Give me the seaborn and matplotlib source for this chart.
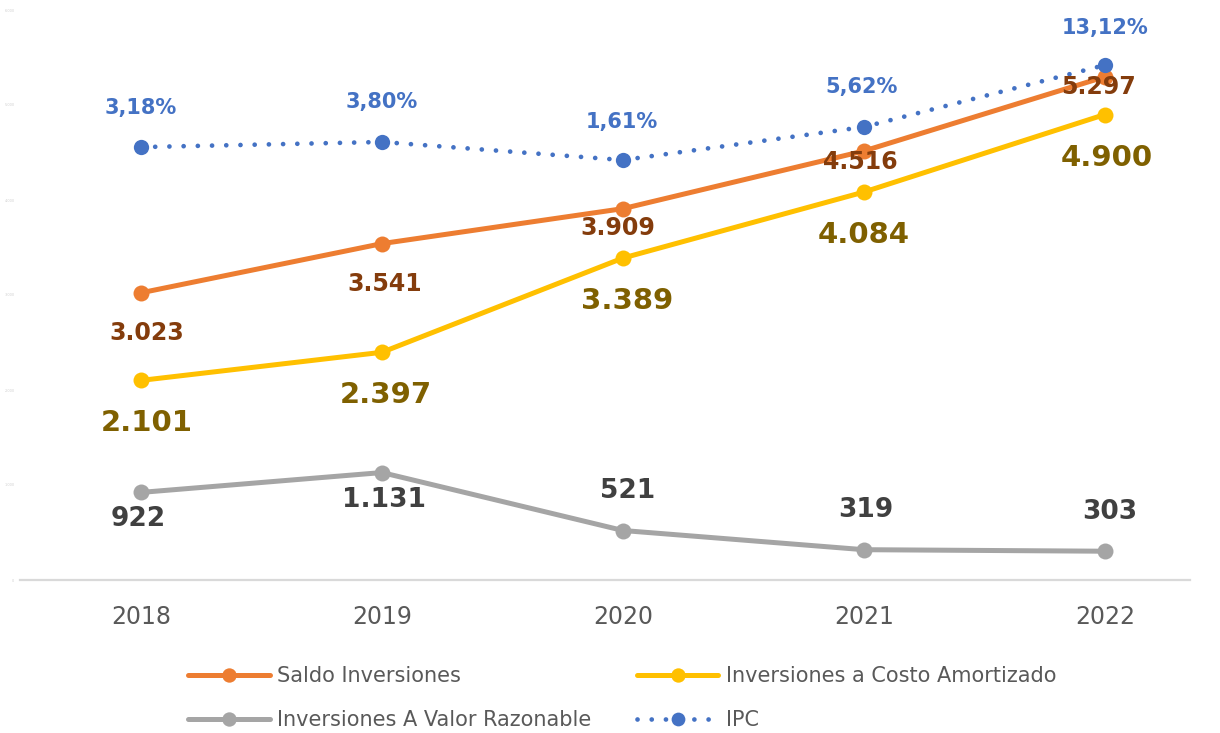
import matplotlib
matplotlib.use("Agg")
import matplotlib.pyplot as plt
import seaborn as sns
import pandas as pd

# ---- data -------------------------------------------------------------
years = ["2018", "2019", "2020", "2021", "2022"]
saldo = [3023, 3541, 3909, 4516, 5297]
costo = [2101, 2397, 3389, 4084, 4900]
valor = [922, 1131, 521, 319, 303]
ipc = [3.18, 3.80, 1.61, 5.62, 13.12]

names = ["Saldo Inversiones", "Inversiones a Costo Amortizado",
         "Inversiones A Valor Razonable", "IPC"]

# ---- style ------------------------------------------------------------
sns.set_theme(style="white")
plt.rcParams["font.family"] = ["DejaVu Sans"]

C_ORANGE, C_YELLOW, C_GRAY, C_BLUE = "#ED7D31", "#FFC000", "#A5A5A5", "#4472C4"
L_ORANGE, L_YELLOW, L_GRAY, L_BLUE = "#843C0C", "#7F6000", "#404040", "#4472C4"
TXT = "#595959"

fig = plt.figure(figsize=(12.2, 7.33), dpi=100)
ax = fig.add_axes([20 / 1220, 1 - 580 / 733, 1170 / 1220, 570 / 733])
ax2 = ax.twinx()

df = pd.DataFrame({"x": range(len(years)), "saldo": saldo, "costo": costo,
                   "valor": valor, "ipc": ipc})

line_kw = dict(marker="o", markersize=11.5, linewidth=3.6, markeredgewidth=0)
sns.lineplot(data=df, x="x", y="saldo", ax=ax, color=C_ORANGE, label=names[0], zorder=4, **line_kw)
sns.lineplot(data=df, x="x", y="costo", ax=ax, color=C_YELLOW, label=names[1], zorder=3, **line_kw)
sns.lineplot(data=df, x="x", y="valor", ax=ax, color=C_GRAY, label=names[2], zorder=2, **line_kw)
sns.lineplot(data=df, x="x", y="ipc", ax=ax2, color=C_BLUE, label=names[3],
             marker="o", markersize=11, markeredgewidth=0, linewidth=3.4,
             linestyle=(0, (0.01, 3.0)), dash_capstyle="round", zorder=5)

# ---- axes -------------------------------------------------------------
for a in (ax, ax2):
    a.set_xlim(-0.502, 4.353)
    a.set_xlabel("")
    a.set_ylabel("")
    for s in ("top", "right", "left"):
        a.spines[s].set_visible(False)
    if a.get_legend() is not None:
        a.get_legend().remove()
ax2.spines["bottom"].set_visible(False)

ax.set_ylim(0, 6000)
ax2.set_ylim(-49.3, 19.8)
ax2.set_yticks([])

ax.spines["bottom"].set_color("#D9D9D9")
ax.spines["bottom"].set_linewidth(1.6)
ax.set_xticks(range(len(years)))
ax.set_xticklabels(years, fontsize=17, color=TXT)
ax.tick_params(axis="x", length=0, pad=18)

ax.set_yticks(range(0, 6001, 1000))
ax.set_yticklabels([f"{v:,}".replace(",", ".") for v in range(0, 6001, 1000)],
                   fontsize=2.5, color="#D0D0D0")
ax.tick_params(axis="y", length=0, pad=4)

# ---- data labels ------------------------------------------------------
def fmt_int(v):
    return f"{v:,}".replace(",", ".")

def fmt_pct(v):
    return f"{v:.2f}%".replace(".", ",")

label_sets = [
    (saldo, ax, fmt_int, L_ORANGE, 17,
     [(6, -40), (3, -40), (-5, -19), (-4, -11), (-6, -10)]),
    (costo, ax, fmt_int, L_YELLOW, 21,
     [(6, -43), (4, -43), (4, -43), (0, -43), (2, -44)]),
    (valor, ax, fmt_int, L_GRAY, 19,
     [(-3, -27), (2, -27), (5, 40), (2, 40), (5, 39)]),
    (ipc, ax2, fmt_pct, L_BLUE, 15,
     [(0, 39), (0, 40), (-1, 38), (-2, 40), (0, 37)]),
]
for vals, src, fmt, col, size, offs in label_sets:
    for i, (v, (dx, dy)) in enumerate(zip(vals, offs)):
        ax2.annotate(fmt(v), xy=(i, v), xycoords=src.transData,
                     xytext=(dx, dy), textcoords="offset pixels",
                     ha="center", va="center", fontsize=size,
                     fontweight="bold", color=col, zorder=10)

# ---- legend (row-major: two entries per row) --------------------------
h1, l1 = ax.get_legend_handles_labels()
h2, l2 = ax2.get_legend_handles_labels()
handles = h1 + h2
labels = l1 + l2
order = [0, 2, 1, 3]
fig.legend([handles[i] for i in order], [labels[i] for i in order],
           ncol=2, loc="center left",
           bbox_to_anchor=(178 / 1220, 1 - 698 / 733),
           frameon=False, fontsize=15, labelcolor=TXT,
           handlelength=3.9, handletextpad=0.35, columnspacing=2.2,
           labelspacing=1.15, borderpad=0, markerscale=0.9)

fig.savefig("out.png", dpi=100)
